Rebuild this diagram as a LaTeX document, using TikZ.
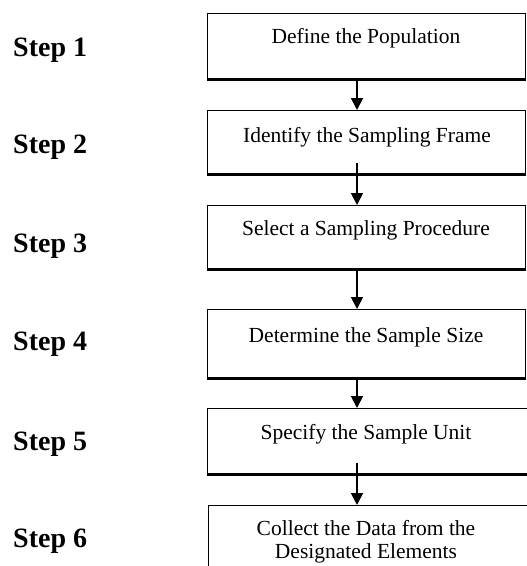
\documentclass[tikz,border=0pt]{standalone}
\usepackage{fontspec}
\setmainfont{Liberation Serif}
\usetikzlibrary{arrows.meta}
\tikzset{
  stepbox/.style={draw=black, line width=1.4pt, rectangle, inner sep=0pt, anchor=north west},
  boxtext/.style={anchor=base, inner sep=0pt, font=\fontsize{21.5}{23}\selectfont, align=center},
  steplbl/.style={anchor=base west, inner sep=0pt, font=\fontsize{28}{30}\selectfont\bfseries},
  arr/.style={draw=black, line width=1.8pt, -{Triangle[width=12pt,length=12pt]}},
  shadowline/.style={draw=black, line width=3pt},
}
\begin{document}
\begin{tikzpicture}[x=1pt,y=1pt]
\useasboundingbox (0,0) rectangle (527,-566);
\fill[white] (0,0) rectangle (527,-566);
\coordinate (ax) at (357,0);
% boxes
\node[stepbox, minimum width=318pt, minimum height=65pt] (b1) at (207,-13) {};
\node[stepbox, minimum width=318pt, minimum height=63pt] (b2) at (207,-110) {};
\node[stepbox, minimum width=318pt, minimum height=63pt] (b3) at (207,-205) {};
\node[stepbox, minimum width=318pt, minimum height=68pt] (b4) at (207,-309) {};
\node[stepbox, minimum width=330pt, minimum height=65pt] (b5) at (207,-408) {};
\node[stepbox, minimum width=330pt, minimum height=75pt] (b6) at (208,-505) {};
\foreach \b in {b1,b2,b3,b4,b5}{
  \draw[shadowline] ([yshift=-0.5pt]\b.south west) -- ([yshift=-0.5pt]\b.south east);
}
% box texts
\node[boxtext] (t1) at (366,-43) {Define the Population};
\node[boxtext] (t2) at (367,-142) {Identify the Sampling Frame};
\node[boxtext] (t3) at (366,-235) {Select a Sampling Procedure};
\node[boxtext] (t4) at (366,-342) {Determine the Sample Size};
\node[boxtext] (t5) at (366,-439) {Specify the Sample Unit};
\node[boxtext] (t6a) at (366,-535) {Collect the Data from the};
\node[boxtext] (t6b) at (366,-558) {Designated Elements};
% step labels
\node[steplbl] (s1) at (13,-56) {Step 1};
\node[steplbl] (s2) at (13,-153) {Step 2};
\node[steplbl] (s3) at (13,-252) {Step 3};
\node[steplbl] (s4) at (13,-350) {Step 4};
\node[steplbl] (s5) at (13,-450) {Step 5};
\node[steplbl] (s6) at (13,-547) {Step 6};
% arrows
\draw[arr] (b1.south -| ax) -- (b2.north -| ax);
\draw[arr] ([yshift=11pt]b2.south -| ax) -- (b3.north -| ax);
\draw[arr] (b3.south -| ax) -- (b4.north -| ax);
\draw[arr] (b4.south -| ax) -- (b5.north -| ax);
\draw[arr] ([yshift=11pt]b5.south -| ax) -- (b6.north -| ax);
\end{tikzpicture}
\end{document}
